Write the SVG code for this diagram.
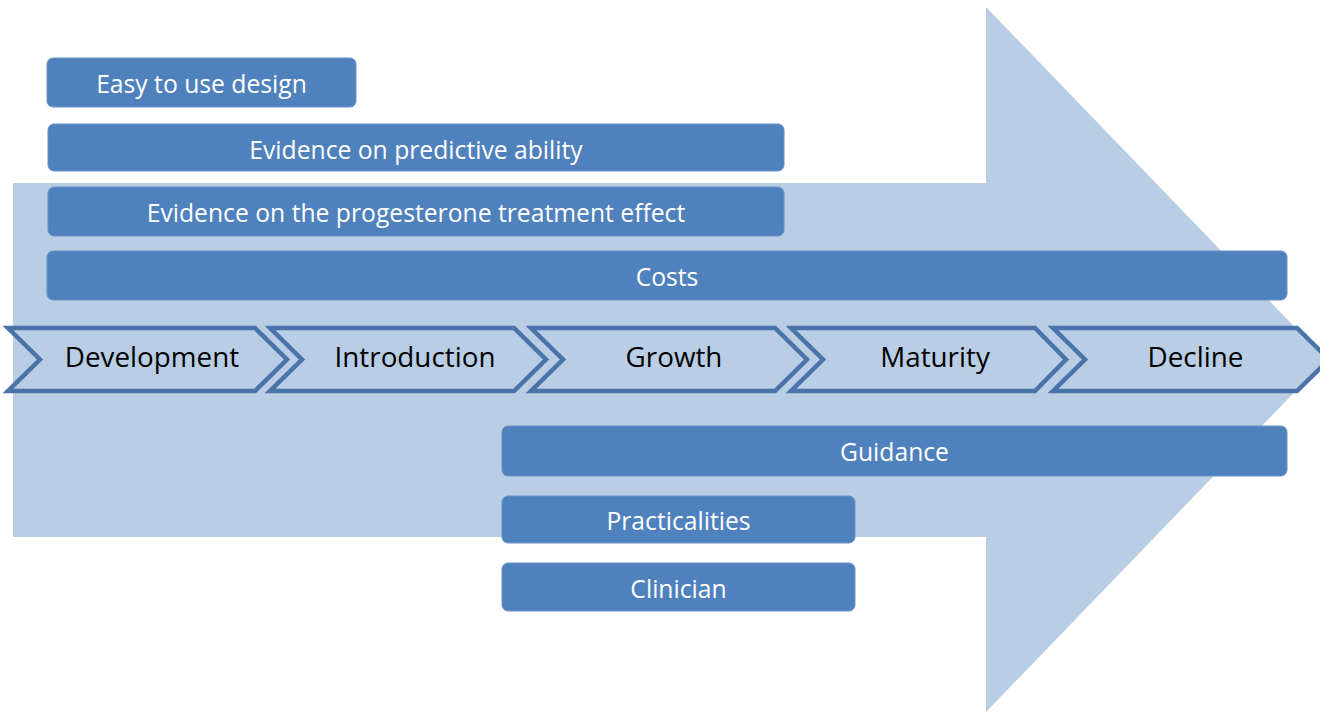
<svg xmlns="http://www.w3.org/2000/svg" width="1320" height="713" viewBox="0 0 1320 713">
<style>
.bg{fill:#b9cde5}
.box{fill:#4f81bd;stroke:#6a92c6;stroke-width:1}
.btxt{font-family:"Open Sans","Liberation Sans",sans-serif;font-size:24.7px;fill:#ffffff;text-anchor:middle}
.chev{fill:#b9cde5;stroke:#4a74a9;stroke-width:4.5;stroke-linejoin:miter}
.ctxt{font-family:"Open Sans","Liberation Sans",sans-serif;font-size:27.8px;fill:#000000;text-anchor:middle}
</style>
<rect width="1320" height="713" fill="#ffffff"/>
<g id="big-arrow">
<path class="bg" d="M13,183 H986 V7 L1326,359.5 L986,712 V537 H13 Z"/>
</g>
<g id="stages">
<g id="development">
<path class="chev" d="M8,328 H255 L287,359.5 L255,391 H8 L40,359.5 Z"/>
<text class="ctxt" x="152" y="366.5">Development</text>
</g>
<g id="introduction">
<path class="chev" d="M270,328 H514 L546,359.5 L514,391 H270 L302,359.5 Z"/>
<text class="ctxt" x="415" y="366.5">Introduction</text>
</g>
<g id="growth">
<path class="chev" d="M531,328 H775 L807,359.5 L775,391 H531 L563,359.5 Z"/>
<text class="ctxt" x="674" y="366.5">Growth</text>
</g>
<g id="maturity">
<path class="chev" d="M791,328 H1035 L1066,359.5 L1035,391 H791 L823,359.5 Z"/>
<text class="ctxt" x="935" y="366.5">Maturity</text>
</g>
<g id="decline">
<path class="chev" d="M1053,328 H1297 L1329,359.5 L1297,391 H1053 L1085,359.5 Z"/>
<text class="ctxt" x="1195.5" y="366.5">Decline</text>
</g>
</g>
<g id="connectors"></g>
<g id="easy-to-use-design">
<rect class="box" x="47" y="58" width="309" height="49" rx="6"/>
<text class="btxt" x="201.5" y="93">Easy to use design</text>
</g>
<g id="evidence-predictive">
<rect class="box" x="48" y="124" width="736" height="47" rx="6"/>
<text class="btxt" x="416" y="159">Evidence on predictive ability</text>
</g>
<g id="evidence-progesterone">
<rect class="box" x="48" y="187" width="736" height="49" rx="6"/>
<text class="btxt" x="416" y="222">Evidence on the progesterone treatment effect</text>
</g>
<g id="costs">
<rect class="box" x="47" y="251" width="1240" height="49" rx="6"/>
<text class="btxt" x="667" y="286">Costs</text>
</g>
<g id="guidance">
<rect class="box" x="502" y="426" width="785" height="50" rx="6"/>
<text class="btxt" x="894.5" y="461">Guidance</text>
</g>
<g id="practicalities">
<rect class="box" x="502" y="496" width="353" height="47" rx="6"/>
<text class="btxt" x="678.5" y="530">Practicalities</text>
</g>
<g id="clinician">
<rect class="box" x="502" y="563" width="353" height="48" rx="6"/>
<text class="btxt" x="678.5" y="598">Clinician</text>
</g>
</svg>
